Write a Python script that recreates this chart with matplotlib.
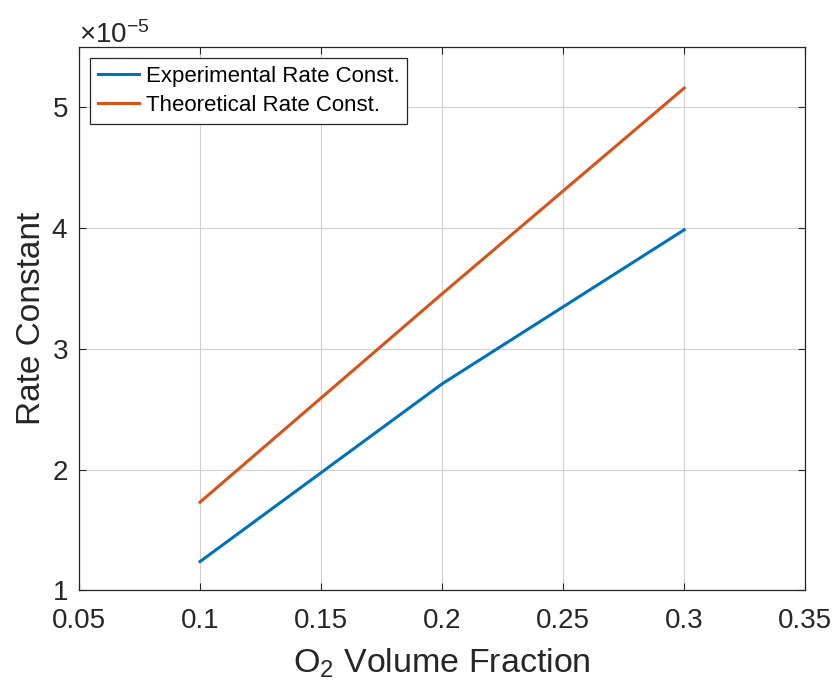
import matplotlib
matplotlib.use("Agg")
import matplotlib.pyplot as plt
from matplotlib.ticker import ScalarFormatter

plt.rcParams['font.family'] = ['Liberation Sans', 'DejaVu Sans']
plt.rcParams['mathtext.default'] = 'regular'

o2_fraction = [0.1, 0.2, 0.3]
k_experimental = [1.238e-5, 2.71e-5, 3.986e-5]
k_theoretical = [1.73e-5, 3.456e-5, 5.16e-5]

x_ticks = [0.05, 0.1, 0.15, 0.2, 0.25, 0.3, 0.35]
y_ticks = [1e-5, 2e-5, 3e-5, 4e-5, 5e-5]

fig = plt.figure(figsize=(8.37, 6.92), dpi=100)
ax = fig.add_axes([0.0944, 0.147, 0.8676, 0.785])

ax.plot(o2_fraction, k_experimental, color='#0072BD', lw=2.2, label="Experimental Rate Const.")
ax.plot(o2_fraction, k_theoretical, color='#D95319', lw=2.2, label="Theoretical Rate Const.")

ax.set_xlim(0.05, 0.35)
ax.set_ylim(1e-5, 5.5e-5)
ax.set_xticks(x_ticks)
ax.set_xticklabels([f"{v:g}" for v in x_ticks])
ax.set_yticks(y_ticks)

fmt = ScalarFormatter(useMathText=True)
fmt.set_powerlimits((0, 0))
ax.yaxis.set_major_formatter(fmt)
ax.yaxis.get_offset_text().set_fontsize(20)
ax.yaxis.get_offset_text().set_color('#262626')

ax.tick_params(direction='in', top=True, right=True, labelsize=20,
               colors='#262626', length=5, width=0.8)
ax.tick_params(axis='x', pad=13)
ax.tick_params(axis='y', pad=8)
for s in ax.spines.values():
    s.set_color('#262626')
    s.set_linewidth(0.9)

ax.grid(True, color='#d0d0d0', lw=0.8)
ax.set_axisbelow(True)

ax.set_xlabel(r"$O_2$ Volume Fraction", fontsize=24.5, color='#262626', labelpad=9)
ax.set_ylabel("Rate Constant", fontsize=24, color='#262626', labelpad=3)

leg = ax.legend(loc='upper left', fontsize=16, fancybox=False, framealpha=1,
                edgecolor='#262626', handlelength=1.85, borderaxespad=0.5,
                borderpad=0.35, labelspacing=0.35, handletextpad=0.3)
leg.get_frame().set_linewidth(0.9)

fig.savefig("out.png", dpi=100)
